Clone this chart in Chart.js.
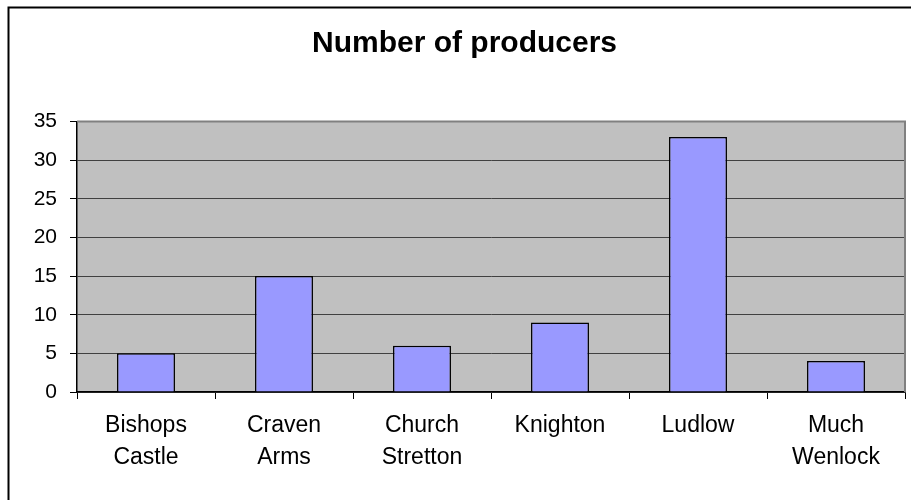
<!DOCTYPE html>
<html>
<head>
<meta charset="utf-8">
<script src="https://cdn.jsdelivr.net/npm/chart.js@4/dist/chart.umd.min.js"></script>
<style>
  html, body { margin: 0; padding: 0; background: #fff; }
  #wrap { position: relative; width: 911px; height: 500px; }
</style>
</head>
<body>
<div id="wrap"><canvas id="chart" width="911" height="500"></canvas></div>
<script>
// data
const categories = [
  ["Bishops", "Castle"],
  ["Craven", "Arms"],
  ["Church", "Stretton"],
  ["Knighton"],
  ["Ludlow"],
  ["Much", "Wenlock"]
];
const producers = [5, 15, 6, 9, 33, 4];
const yMax = 35;
const yStep = 5;

const FONT = "'Liberation Sans', Arial, sans-serif";

// grey plot background + frame, and the outer chart border
const plotBack = {
  id: "plotBack",
  beforeDraw(chart) {
    const { ctx, chartArea: a } = chart;
    ctx.save();
    ctx.fillStyle = "#C0C0C0";
    ctx.fillRect(a.left, a.top, a.right - a.left, a.bottom - a.top);
    ctx.restore();
  },
  beforeDatasetsDraw(chart) {
    const { ctx, chartArea: a } = chart;
    ctx.save();
    ctx.strokeStyle = "#808080";
    ctx.lineWidth = 2;
    ctx.beginPath();
    ctx.moveTo(a.left, a.top);
    ctx.lineTo(a.right, a.top);
    ctx.lineTo(a.right, a.bottom);
    ctx.stroke();
    ctx.restore();
  },
  afterDraw(chart) {
    const ctx = chart.ctx;
    ctx.save();
    ctx.strokeStyle = "#000";
    ctx.lineWidth = 2;
    ctx.beginPath();
    ctx.moveTo(8.5, 520);
    ctx.lineTo(8.5, 7.5);
    ctx.lineTo(930, 7.5);
    ctx.stroke();
    ctx.restore();
  }
};

new Chart(document.getElementById("chart"), {
  type: "bar",
  data: {
    labels: categories,
    datasets: [{
      label: "Number of producers",
      data: producers,
      backgroundColor: "#9999FF",
      borderColor: "#000",
      borderWidth: 1.5,
      barPercentage: 0.42,
      categoryPercentage: 1
    }]
  },
  options: {
    responsive: false,
    animation: false,
    // left padding shifts the centred title right, like the Excel original
    layout: { padding: { top: 0, right: 6, bottom: 0, left: 24 } },
    plugins: {
      legend: { display: false },
      tooltip: { enabled: false },
      title: {
        display: true,
        text: "Number of producers",
        color: "#000",
        font: { family: FONT, size: 30, weight: "bold" },
        padding: { top: 26, bottom: 59.5 }
      }
    },
    scales: {
      x: {
        offset: true,
        grid: {
          offset: true,
          drawOnChartArea: false,
          tickLength: 7,
          tickColor: "#000",
          tickWidth: 1
        },
        border: { color: "#000", width: 1.5 },
        ticks: {
          color: "#000",
          padding: 11,
          maxRotation: 0,
          autoSkip: false,
          font: { family: FONT, size: 23, lineHeight: 1.37 }
        },
        afterFit(s) { s.height = 108; }
      },
      y: {
        min: 0,
        max: yMax,
        ticks: {
          stepSize: yStep,
          color: "#000",
          padding: 13,
          font: { family: FONT, size: 21 }
        },
        grid: {
          color: "#404040",
          lineWidth: 1,
          tickLength: 7,
          tickColor: "#000"
        },
        border: { color: "#000", width: 1.5 },
        afterFit(s) { s.width = 53; }
      }
    }
  },
  plugins: [plotBack]
});
</script>
</body>
</html>
